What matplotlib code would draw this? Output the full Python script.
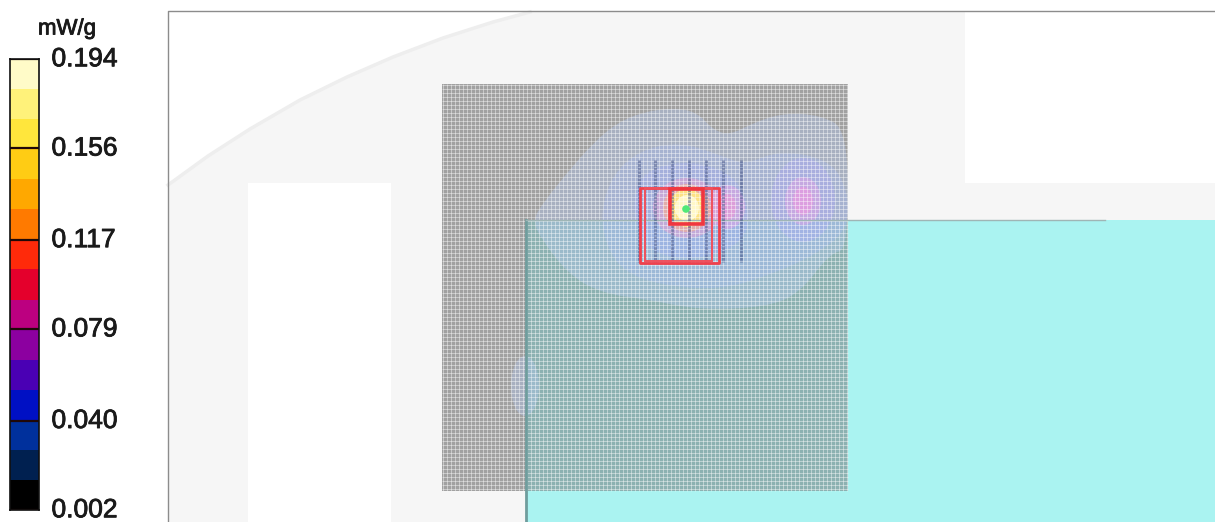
import numpy as np
import matplotlib
matplotlib.use('Agg')
import matplotlib.pyplot as plt
import matplotlib.patheffects as pe
from matplotlib.path import Path
from matplotlib.patches import PathPatch, Rectangle, Ellipse, Polygon
from matplotlib.colors import ListedColormap, BoundaryNorm
from matplotlib.transforms import ScaledTranslation

plt.rcParams['font.family'] = ['Liberation Sans', 'DejaVu Sans']

# colour scale
tick_values = [0.002, 0.040, 0.079, 0.117, 0.156, 0.194]
tick_labels = ['0.002', '0.040', '0.079', '0.117', '0.156', '0.194']
unit_label = 'mW/g'
scale_colors = ['#000000', '#002050', '#00309c', '#0010c4', '#4a00b4', '#8c00a0',
                '#bc0080', '#e4002c', '#ff2a0a', '#ff7a00', '#ffa800', '#ffcc14',
                '#ffe63c', '#fff27a', '#fffbc8']

# phantom outline, read in picture pixels
arc_x = [168, 208, 250, 300, 347, 393, 443, 493, 530, 965, 965, 1215, 1215, 168]
arc_y = [185, 156, 129, 100, 77, 57, 38, 22, 12, 12, 183, 183, 522, 522]
slot_x = [248, 391]
slot_y = [183, 522]
board_x = [526, 1215]
board_y = [220, 522]
mesh_x = [442, 848]
mesh_y = [84, 491]
mesh_pitch = 4

# field contours
outer_x = [533, 543, 567, 593, 617, 643, 673, 697, 713, 730, 753, 783, 820, 848, 848, 830, 800, 767, 700, 650, 600, 567, 540]
outer_y = [220, 203, 173, 143, 123, 112, 108, 112, 130, 135, 123, 113, 115, 130, 250, 253, 293, 307, 310, 300, 293, 273, 237]
mid_x = [608, 600, 612, 640, 680, 720, 745, 780, 830, 848, 848, 815, 770, 720, 660, 625]
mid_y = [250, 215, 175, 150, 142, 155, 165, 150, 160, 190, 230, 255, 275, 290, 285, 272]
inner_x = [640, 632, 645, 690, 735, 750, 745, 710, 665]
inner_y = [240, 200, 170, 160, 175, 210, 240, 258, 258]

probe_x = [639, 655, 672, 689, 706, 723, 741]
probe_y = [160, 262]

outer_box_x = [640, 719]
outer_box_y = [188, 263]
second_box_x = [645, 712]
zoom_box_x = [670, 703]
zoom_box_y = [189, 224]
peak_x = 686
peak_y = 209


def smooth(xs, ys):
    pts = np.column_stack([xs, ys])
    nxt = np.roll(pts, -1, axis=0)
    mids = (pts + nxt) / 2
    verts = [mids[-1]]
    codes = [Path.MOVETO]
    for p, m in zip(pts, mids):
        verts += [p, m]
        codes += [Path.CURVE3, Path.CURVE3]
    return Path(verts, codes)


fig = plt.figure(figsize=(12.15, 5.22), dpi=100, facecolor='white')
ax = fig.add_axes([0, 0, 1, 1])
ax.set_xlim(0, 1215)
ax.set_ylim(522, 0)
ax.axis('off')

# phantom
ax.add_patch(Polygon(np.column_stack([arc_x, arc_y]), closed=True, fc='#f6f6f6', ec='none', zorder=1))
ax.plot(arc_x[:9], arc_y[:9], color='#eeeeee', lw=2.5, zorder=2)
ax.add_patch(Rectangle((slot_x[0], slot_y[0]), slot_x[1] - slot_x[0], slot_y[1] - slot_y[0], fc='white', ec='none', zorder=2))
ax.add_patch(Rectangle((board_x[0], board_y[0]), board_x[1] - board_x[0], board_y[1] - board_y[0], fc='#aaf3f1', ec='none', zorder=3))
ax.plot([526, 526], [220, 522], color='#6f9d9d', lw=2, zorder=7)
ax.plot([526, 1105], [220, 220], color='#9fb5b5', lw=1.0, zorder=7)

# frame
ax.plot([168, 168, 1215], [522, 11, 11], color='#8c8c8c', lw=1, zorder=8)

# mesh
w = mesh_x[1] - mesh_x[0]
h = mesh_y[1] - mesh_y[0]
ax.add_patch(Rectangle((mesh_x[0], mesh_y[0]), w, h, fc='#8c8c8c', alpha=0.8, ec='none', zorder=4))

# board tint seen through the mesh
ax.add_patch(Rectangle((board_x[0], board_y[0]), mesh_x[1] - board_x[0], mesh_y[1] - board_y[0],
                       fc='#80e0e0', ec='none', alpha=0.28, zorder=4.5))

# field
ax.add_patch(PathPatch(smooth(outer_x, outer_y), fc='#b4c8f0', ec='none', alpha=0.4, zorder=5))
ax.add_patch(PathPatch(smooth(mid_x, mid_y), fc='#a4b8f8', ec='none', alpha=0.3, zorder=5))
ax.add_patch(PathPatch(smooth(inner_x, inner_y), fc='#a0a8ff', ec='none', alpha=0.25, zorder=5))
for (cx, cy, rx, ry, c, a) in [(803, 200, 32, 42, '#b0a8ff', 0.3),
                               (803, 201, 18, 24, '#f0a0e8', 0.4),
                               (803, 201, 10, 14, '#ff90e0', 0.4),
                               (727, 207, 18, 22, '#f0a0e8', 0.45),
                               (727, 207, 9, 13, '#ff90d0', 0.4),
                               (687, 208, 34, 30, '#f0a0d0', 0.45),
                               (687, 208, 24, 24, '#ffb080', 0.5),
                               (687, 208, 18, 19, '#ffe880', 0.9),
                               (687, 208, 12, 13, '#fff8c8', 1.0)]:
    ax.add_patch(Ellipse((cx, cy), 2 * rx, 2 * ry, fc=c, ec='none', alpha=a, zorder=5))
ax.add_patch(Ellipse((525, 386), 28, 60, fc='#b4c8f0', ec='none', alpha=0.4, zorder=5))

grid_x = np.arange(mesh_x[0] + 1, mesh_x[1], mesh_pitch)
grid_y = np.arange(mesh_y[0] + 1, mesh_y[1], mesh_pitch)
ax.vlines(grid_x, mesh_y[0], mesh_y[1], color='white', lw=0.72, alpha=0.42, zorder=6)
ax.hlines(grid_y, mesh_x[0], mesh_x[1], color='white', lw=0.72, alpha=0.42, zorder=6)

# probes and scan boxes
ax.vlines(probe_x, probe_y[0], probe_y[1], color='#34447c', lw=2.0, alpha=0.5, linestyles=(0, (1.0, 0.3)), zorder=7)
ax.add_patch(Rectangle((outer_box_x[0], outer_box_y[0]), outer_box_x[1] - outer_box_x[0], outer_box_y[1] - outer_box_y[0],
                       fc='none', ec='#f0404c', lw=2.0, joinstyle='round', zorder=8))
ax.add_patch(Rectangle((second_box_x[0], outer_box_y[0]), second_box_x[1] - second_box_x[0], outer_box_y[1] - outer_box_y[0] - 2,
                       fc='none', ec='#f0505c', lw=1.4, zorder=8))
ax.add_patch(Rectangle((zoom_box_x[0], zoom_box_y[0]), zoom_box_x[1] - zoom_box_x[0], zoom_box_y[1] - zoom_box_y[0],
                       fc='none', ec='#f0363f', lw=2.6, zorder=9))
ax.scatter([peak_x], [peak_y], s=30, color='#50e878', edgecolors='none', zorder=10)

# colour bar
cax = fig.add_axes([10 / 1215, 12 / 522, 29 / 1215, 451 / 522])
levels = np.linspace(tick_values[0], tick_values[-1], len(scale_colors) + 1)
cmap = ListedColormap(scale_colors)
cax.pcolormesh([0, 1], levels, np.array(levels[:-1]).reshape(-1, 1), cmap=cmap,
               norm=BoundaryNorm(levels, cmap.N))
cax.hlines(tick_values, 0, 1, color='#200808', lw=1.6)
cax.set_xlim(0, 1)
cax.set_ylim(tick_values[0], tick_values[-1])
cax.set_xticks([])
cax.yaxis.tick_right()
cax.set_yticks(tick_values)
cax.set_yticklabels(tick_labels, fontsize=19, color='#1a1a1a')
cax.tick_params(axis='y', length=0, pad=9)
stroke = [pe.withStroke(linewidth=0.6, foreground='#1a1a1a')]
shift = ScaledTranslation(0, 1.6 / 72, fig.dpi_scale_trans)
for lab in cax.get_yticklabels():
    lab.set_path_effects(stroke)
    lab.set_transform(lab.get_transform() + shift)
for s in cax.spines.values():
    s.set_color('#101010')
    s.set_linewidth(1.2)

ax.text(67, 29, unit_label, fontsize=16, color='#1a1a1a', ha='center', va='center', zorder=10, path_effects=stroke)

fig.savefig('out.png', dpi=100)
